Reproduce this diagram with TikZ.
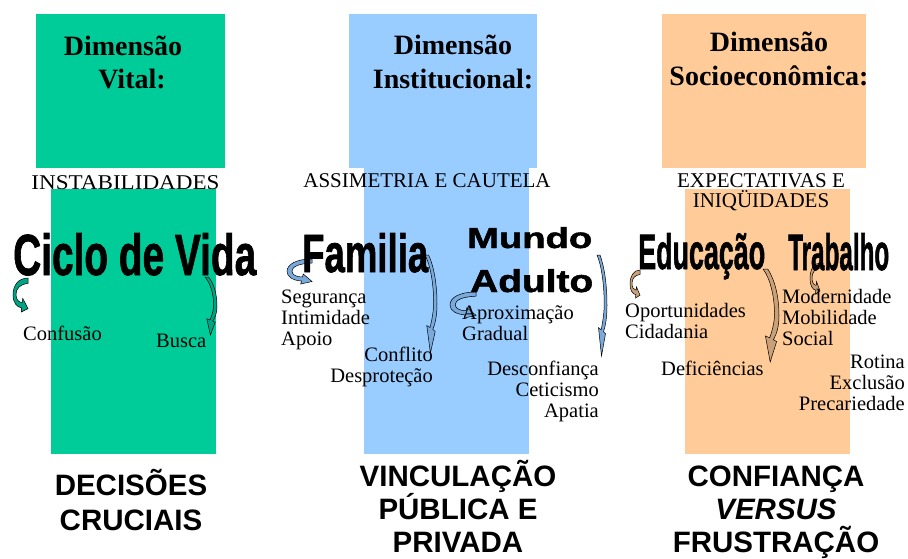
\documentclass[tikz,border=0pt]{standalone}
\usepackage{fontspec}
\setmainfont{Liberation Serif}
\setsansfont{Liberation Sans}
\newfontfamily\wordart{Liberation Sans Bold}[FakeBold=1.5]
\usepackage{graphicx}
\usepackage{tikz}
\usetikzlibrary{positioning}
\usepackage{xcolor}
\definecolor{vitalgreen}{HTML}{00CC99}
\definecolor{instblue}{HTML}{99CCFF}
\definecolor{socioorange}{HTML}{FFCC99}
\definecolor{greenarrow}{HTML}{00A383}
\definecolor{bluearrow}{HTML}{7AAADC}
\definecolor{tanarrow}{HTML}{C9A078}
\tikzstyle{dim} = [font=\fontsize{28}{33.5}\selectfont\bfseries, inner sep=0pt, align=center, anchor=base]
\tikzstyle{sub} = [font=\fontsize{21}{20}\selectfont, inner sep=0pt, align=center, anchor=base]
\tikzstyle{item} = [font=\fontsize{20.5}{21}\selectfont, inner sep=0pt]
\tikzstyle{result} = [font=\sffamily\bfseries\fontsize{29.5}{33}\selectfont, inner sep=0pt, align=center, anchor=base]
\tikzstyle{bigword} = [inner sep=0pt, anchor=base west]
\tikzstyle{curl} = [draw=black, line width=0.5pt]
\tikzset{
  curlR/.pic={\path[pic actions] (1,0) .. controls (0.35,0) and (0,0.22) .. (0,0.5)
    .. controls (0,0.72) and (0.25,0.86) .. (0.58,0.88) -- (0.55,1) -- (1,0.9) -- (0.65,0.6) -- (0.62,0.72)
    .. controls (0.35,0.72) and (0.2,0.62) .. (0.2,0.48) .. controls (0.2,0.3) and (0.5,0.18) .. (1,0.16) -- cycle;},
  curlD/.pic={\path[pic actions] (0,0) -- (0.3,0) .. controls (0.75,0.12) and (1,0.3) .. (1,0.5)
    .. controls (1,0.62) and (0.85,0.7) .. (0.65,0.76) -- (0.85,0.78) -- (0.45,1) -- (0.15,0.72) -- (0.42,0.74)
    .. controls (0.62,0.64) and (0.72,0.56) .. (0.72,0.48) .. controls (0.72,0.3) and (0.45,0.1) .. (0,0) -- cycle;}
}
\begin{document}
\begin{tikzpicture}[x=1pt,y=-1pt]
  \useasboundingbox (0,0) rectangle (908,558);
  \fill[vitalgreen] (36,14) rectangle (225,168);
  \fill[vitalgreen] (51,189) rectangle (216,454);
  \fill[instblue] (349,14) rectangle (537,168);
  \fill[instblue] (364,168) rectangle (529,454);
  \fill[socioorange] (662,14) rectangle (866,168);
  \fill[socioorange] (685,189) rectangle (850,454);

  \node[dim] (dimvital) at (123,55) {Dimensão};
  \node[dim] (vital) at (132,88) {Vital:};
  \node[dim] (inst) at (453,88) {Dimensão\\Institucional:};
  \node[dim] (socio) at (769,85) {Dimensão\\Socioeconômica:};

  \node[sub] (instab) at (125.5,189) {\scalebox{1.1}[1]{INSTABILIDADES}};
  \node[sub] (assim) at (427,187) {ASSIMETRIA E CAUTELA};
  \node[sub] (expect) at (761,207) {EXPECTATIVAS E\\INIQÜIDADES};

  \pic[curl, fill=greenarrow, xscale=15, yscale=34] at (13,278) {curlR};
  \pic[curl, fill=greenarrow, xscale=12, yscale=58] at (205,277) {curlD};
  \pic[curl, fill=bluearrow, xscale=25, yscale=25] at (287,259) {curlR};
  \pic[curl, fill=bluearrow, xscale=12, yscale=98] at (425,255) {curlD};
  \pic[curl, fill=bluearrow, xscale=26, yscale=26] at (450,292) {curlR};
  \pic[curl, fill=bluearrow, xscale=10, yscale=101] at (597,255) {curlD};
  \pic[curl, fill=tanarrow, xscale=10, yscale=28] at (630,270) {curlR};
  \pic[curl, fill=tanarrow, xscale=16, yscale=93] at (763,269) {curlD};
  \pic[curl, fill=tanarrow, xscale=10, yscale=31] at (810,263) {curlR};

  \node[bigword] (ciclo) at (13,275) {\resizebox{243pt}{42pt}{\wordart Ciclo de Vida}};
  \node[bigword] (familia) at (302,272) {\resizebox{126pt}{39pt}{\wordart Familia}};
  \node[bigword] (mundo) at (467,248) {\resizebox{125pt}{21pt}{\wordart Mundo}};
  \node[bigword] (adulto) at (470,292) {\resizebox{123pt}{23pt}{\wordart Adulto}};
  \node[bigword] (educ) at (638,269) {\resizebox{127pt}{36pt}{\wordart Educação}};
  \node[bigword] (trab) at (788,270) {\resizebox{101pt}{37pt}{\wordart Trabalho}};

  \node[item, anchor=base west] (confusao) at (23,340) {Confusão};
  \node[item, anchor=base west] (busca) at (156,347) {Busca};
  \node[item, anchor=base west, align=left] (seg) at (281,345) {Segurança\\Intimidade\\Apoio};
  \node[item, anchor=base east, align=right] (conflito) at (433,382) {Conflito\\Desproteção};
  \node[item, anchor=base west, align=left] (aprox) at (462,340) {Aproximação\\Gradual};
  \node[item, anchor=base east, align=right] (desconf) at (599,417) {Desconfiança\\Ceticismo\\Apatia};
  \node[item, anchor=base west, align=left] (oport) at (625,338) {Oportunidades\\Cidadania};
  \node[item, anchor=base west] (defic) at (661,375) {Deficiências};
  \node[item, anchor=base west, align=left] (modern) at (782,345) {Modernidade\\Mobilidade\\Social};
  \node[item, anchor=base east, align=right] (rotina) at (905,410) {Rotina\\Exclusão\\Precariedade};

  \node[result] (decisoes) at (131,530) {DECISÕES\\[2pt]CRUCIAIS};
  \node[result] (vinculo) at (458,552) {VINCULAÇÃO\\PÚBLICA E\\PRIVADA};
  \node[result] (confianca) at (776,552) {CONFIANÇA\\\textit{VERSUS}\\FRUSTRAÇÃO};
\end{tikzpicture}
\end{document}
